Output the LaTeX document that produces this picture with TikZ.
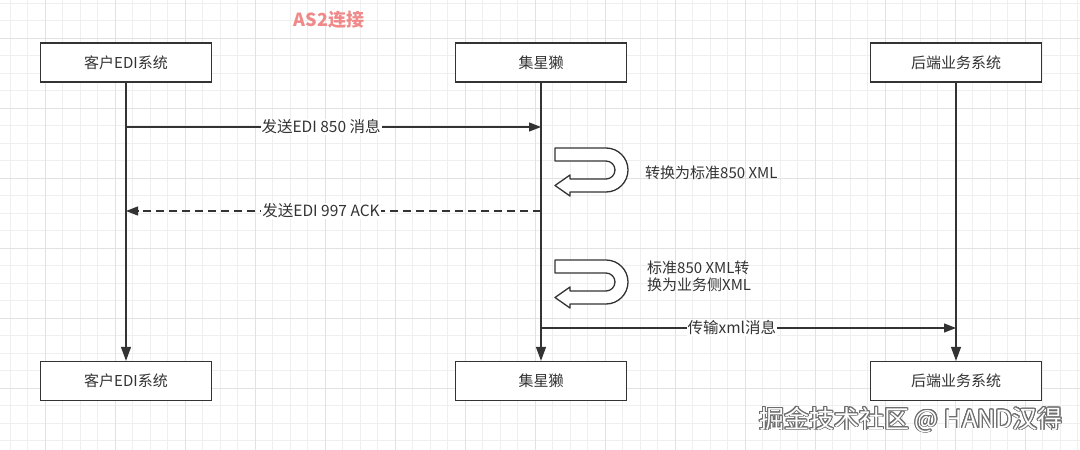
\documentclass[tikz,border=0pt]{standalone}
\usepackage{fontspec}
\setmainfont{Noto Sans CJK SC}
\usepackage[copies]{contour}
\usetikzlibrary{arrows.meta}

\definecolor{linegray}{HTML}{333333}
\definecolor{gridminor}{HTML}{EFEFEF}
\definecolor{gridmajor}{HTML}{E2E2E2}
\definecolor{titlered}{HTML}{F08A8A}
\definecolor{markgray}{HTML}{6E6E6E}

\tikzset{
  actor/.style={draw=linegray, line width=1.3pt, fill=white, minimum width=171pt,
    minimum height=39pt, text=linegray, font=\fontsize{15}{17}\selectfont},
  lifeline/.style={draw=linegray, line width=1.3pt, -{Triangle[length=14pt,width=10pt]}},
  msg/.style={draw=linegray, line width=1.3pt, -{Triangle[length=12pt,width=9pt]}},
  reply/.style={msg, dash pattern=on 8pt off 5pt},
  msglabel/.style={fill=white, inner sep=1pt, text=linegray, font=\fontsize{15.5}{17}\selectfont},
  note/.style={text=linegray, inner sep=0pt, font=\fontsize{15}{17}\selectfont},
  uturn/.style={draw=linegray, line width=1.3pt, fill=white, line join=round},
}

\begin{document}
\begin{tikzpicture}[x=1pt,y=1pt]
        \useasboundingbox (0,0) rectangle (1080,-450);
        \fill[white] (0,0) rectangle (1080,-450);

        % Background grid
        \foreach \gx in {10,27.5,...,1080} {
                \draw[gridminor, line width=0.8pt] (\gx,0) -- (\gx,-450);
            }
        \foreach \gy in {3,20.5,...,450} {
                \draw[gridminor, line width=0.8pt] (0,-\gy) -- (1080,-\gy);
            }
        \foreach \gx in {45,115,...,1080} {
                \draw[gridmajor, line width=0.8pt] (\gx,0) -- (\gx,-450);
            }
        \foreach \gy in {38,108,...,450} {
                \draw[gridmajor, line width=0.8pt] (0,-\gy) -- (1080,-\gy);
            }

        % Title
        \node[text=titlered, font=\bfseries\fontsize{18}{20}\selectfont] (title) at (329,-20) {AS2连接};

        % Participants, top and bottom
        \node[actor] (cli) at (126,-62.5) {客户EDI系统};
        \node[actor] (star) at (541,-62.5) {集星獭};
        \node[actor] (back) at (956,-62.5) {后端业务系统};
        \node[actor] (cliend) at (126,-381) {客户EDI系统};
        \node[actor] (starend) at (541,-381) {集星獭};
        \node[actor] (backend) at (956,-381) {后端业务系统};

        % Lifelines
        \draw[lifeline] (cli) -- (cliend);
        \draw[lifeline] (star) -- (starend);
        \draw[lifeline] (back) -- (backend);

        % Message end points on the lifelines
        \coordinate (edi850a) at (126,-127);
        \coordinate (edi850b) at (541,-127);
        \coordinate (ack997a) at (541,-211);
        \coordinate (ack997b) at (126,-211);
        \coordinate (xmlsenda) at (541,-328);
        \coordinate (xmlsendb) at (956,-328);

        % Messages
        \draw[msg] (edi850a) -- node[msglabel, pos=0.47] (edi850) {发送EDI 850 消息} (edi850b);
        \draw[reply] (ack997a) -- node[msglabel, pos=0.53] (ack997) {发送EDI 997 ACK} (ack997b);
        \draw[msg] (xmlsenda) -- node[msglabel, pos=0.46] (xmlsend) {传输xml消息} (xmlsendb);

        % Self transformations on the middle lifeline
        \foreach \uy in {148,260} {
                \begin{scope}[shift={(0,-\uy)}]
                        \draw[uturn] (555,0) -- (606,0) arc[start angle=90, end angle=-90, radius=22pt]
                        -- (570,-44) -- (570,-48) -- (555,-37.5) -- (570,-27) -- (570,-31)
                        -- (606,-31) arc[start angle=-90, end angle=90, radius=9pt]
                        -- (555,-13) -- cycle;
                \end{scope}
            }
        \node[note, anchor=west] (tostd) at (645,-172.5) {转换为标准850 XML};
        \node[note, anchor=west, align=left] (tobiz) at (647,-276.5) {标准850 XML转\\换为业务侧XML};

        % Watermark
        \contourlength{0.9pt}
        \node[text=white, font=\fontsize{25}{27}\selectfont] (mark) at (911,-420) {\contour{markgray}{掘金技术社区 @ HAND汉得}};
    \end{tikzpicture}
\end{document}
